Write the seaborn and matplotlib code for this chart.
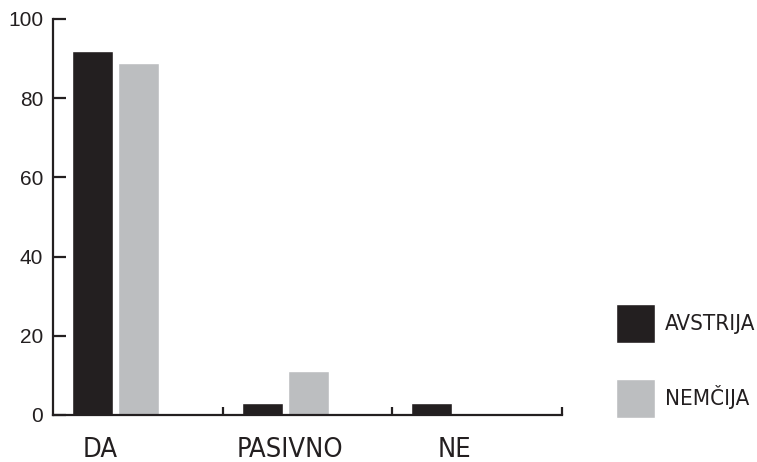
import matplotlib
matplotlib.use("Agg")
import matplotlib.pyplot as plt
import seaborn as sns
import pandas as pd

# data
categories = ["DA", "PASIVNO", "NE"]
avstrija = [92, 3, 3]
nemcija = [89, 11, 0]
series_names = ["AVSTRIJA", "NEMČIJA"]
colors = ["#231f20", "#bcbec0"]

df = pd.DataFrame({
    "odgovor": categories * 2,
    "delez": avstrija + nemcija,
    "drzava": [series_names[0]] * 3 + [series_names[1]] * 3,
})

sns.set_style("ticks")
plt.rcParams["font.family"] = ["Liberation Sans", "DejaVu Sans"]
ink = "#231f20"

fig = plt.figure(figsize=(7.57, 4.62), dpi=100)
ax = fig.add_axes([53 / 757, 1 - 415 / 462, 509 / 757, 396 / 462])

sns.barplot(data=df, x="odgovor", y="delez", hue="drzava", order=categories,
            hue_order=series_names, palette=colors, saturation=1,
            width=0.543, gap=0.11, ax=ax)

sns.despine(ax=ax)
for s in ["left", "bottom"]:
    ax.spines[s].set_linewidth(1.6)
    ax.spines[s].set_color(ink)

ax.set_xlim(-0.368, 2.632)
ax.set_ylim(0, 100)
ax.set_yticks([0, 20, 40, 60, 80, 100])
ax.tick_params(axis="y", direction="in", length=9, width=1.6, color=ink,
               labelsize=15, pad=7, labelcolor=ink)

# group boundary ticks (no labels) + category labels as minor ticks
ax.set_xticks([0.632, 1.632, 2.632], ["", "", ""])
ax.tick_params(axis="x", which="major", direction="in", length=6, width=1.6, color=ink)
ax.set_xticks([-0.09, 1.03, 2.0], categories, minor=True)
ax.tick_params(axis="x", which="minor", length=0, pad=16)
for t in ax.get_xticklabels(minor=True):
    t.set_fontfamily("DejaVu Sans")
    t.set_fontstretch("condensed")
    t.set_fontsize(19.5)
    t.set_color(ink)

ax.set_xlabel("")
ax.set_ylabel("")

sns.move_legend(ax, "upper left", bbox_to_anchor=(616 / 757, 1 - 304 / 462),
                bbox_transform=fig.transFigure, frameon=False, title=None,
                borderpad=0, borderaxespad=0, handlelength=1.76, handleheight=2.33,
                labelspacing=1.6, handletextpad=0.45,
                prop={"family": "DejaVu Sans", "stretch": "condensed", "size": 16})
for t in ax.get_legend().get_texts():
    t.set_color(ink)

fig.savefig("out.png", dpi=100)
